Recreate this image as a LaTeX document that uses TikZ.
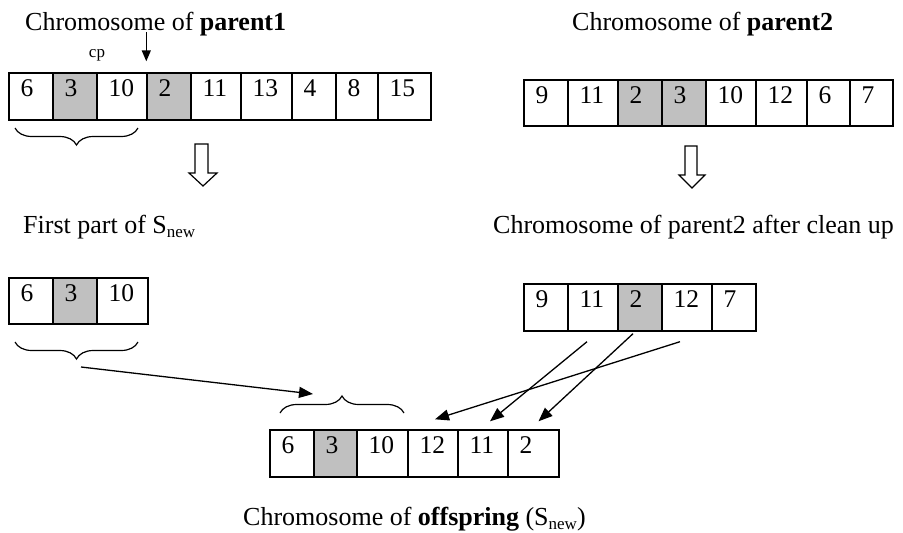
\documentclass[tikz,border=0pt]{standalone}
\usepackage{fontspec}
\setmainfont{Liberation Serif}
\usetikzlibrary{arrows.meta,decorations.pathreplacing}
\definecolor{shade}{RGB}{192,192,192}
\newcommand\subnew{\raisebox{-4pt}{\fontsize{17}{20}\selectfont new}}
\newcommand\cellbox[7]{%
  \node[cellst, fill=#7, minimum width={(#3-#2)*1pt}, minimum height={(#5-#4)*1pt}] (#1) at ({(#2+#3)/2},{(#4+#5)/2}) {};
  \node[numst, anchor=north west] (#1t) at ([xshift=12pt,yshift=-7pt]#1.north west) {#6};}
\begin{document}
\begin{tikzpicture}[x=1pt,y=-1pt,
  cellst/.style={draw=black, line width=1.4pt, inner sep=0pt, rectangle},
  numst/.style={inner sep=0pt, font=\fontsize{25.5}{30}\selectfont},
  titlest/.style={inner sep=0pt, anchor=base west, font=\fontsize{26}{30}\selectfont},
  link/.style={line width=1.3pt, -{Triangle[length=14pt,width=11pt]}},
  hollow/.style={draw, line width=1.2pt, fill=white, line join=miter},
  bracest/.style={decorate, line width=1.2pt}]
\useasboundingbox[fill=white] (0,0) rectangle (903,533);

% titles
\node[titlest] (tp1) at (25,30) {Chromosome of \textbf{parent1}};
\node[inner sep=0pt, anchor=base, font=\fontsize{17}{20}\selectfont] (cp) at (97,57) {cp};
\node[titlest] (tp2) at (572,30) {Chromosome of \textbf{parent2}};
\node[titlest] (tf) at (23,233) {First part of S\subnew};
\node[titlest] (tc) at (493,233) {Chromosome of parent2 after clean up};
\node[titlest] (to) at (243,525) {Chromosome of \textbf{offspring} (S\subnew)};

% parent1
\cellbox{p1}{9}{53}{73}{120}{6}{white}
\cellbox{p2}{53}{97}{73}{120}{3}{shade}
\cellbox{p3}{97}{147}{73}{120}{10}{white}
\cellbox{p4}{147}{191}{73}{120}{2}{shade}
\cellbox{p5}{191}{241}{73}{120}{11}{white}
\cellbox{p6}{241}{292}{73}{120}{13}{white}
\cellbox{p7}{292}{336}{73}{120}{4}{white}
\cellbox{p8}{336}{378}{73}{120}{8}{white}
\cellbox{p9}{378}{431}{73}{120}{15}{white}

% parent2
\cellbox{r1}{524}{568}{80}{126}{9}{white}
\cellbox{r2}{568}{618}{80}{126}{11}{white}
\cellbox{r3}{618}{662}{80}{126}{2}{shade}
\cellbox{r4}{662}{706}{80}{126}{3}{shade}
\cellbox{r5}{706}{756}{80}{126}{10}{white}
\cellbox{r6}{756}{807}{80}{126}{12}{white}
\cellbox{r7}{807}{850}{80}{126}{6}{white}
\cellbox{r8}{850}{893}{80}{126}{7}{white}

% first part
\cellbox{f1}{9}{53}{278}{324}{6}{white}
\cellbox{f2}{53}{97}{278}{324}{3}{shade}
\cellbox{f3}{97}{148}{278}{324}{10}{white}

% parent2 after clean up
\cellbox{c1}{524}{568}{284}{331}{9}{white}
\cellbox{c2}{568}{618}{284}{331}{11}{white}
\cellbox{c3}{618}{662}{284}{331}{2}{shade}
\cellbox{c4}{662}{712}{284}{331}{12}{white}
\cellbox{c5}{712}{756}{284}{331}{7}{white}

% offspring
\cellbox{o1}{270}{314}{430}{477}{6}{white}
\cellbox{o2}{314}{357}{430}{477}{3}{shade}
\cellbox{o3}{357}{408}{430}{477}{10}{white}
\cellbox{o4}{408}{458}{430}{477}{12}{white}
\cellbox{o5}{458}{508}{430}{477}{11}{white}
\cellbox{o6}{508}{559}{430}{477}{2}{white}

% cut point arrow
\draw[line width=1.4pt, -{Triangle[length=11pt,width=9pt]}] ([yshift=40pt]p4.north west) -- ([yshift=11pt]p4.north west);

% braces
\draw[bracest, decoration={brace, mirror, amplitude=17pt}] (15,128) -- (138,128);
\draw[bracest, decoration={brace, mirror, amplitude=17pt}] (15,342) -- (138,342);
\draw[bracest, decoration={brace, amplitude=17pt}] (280,413) -- (404,413);

% hollow arrows
\draw[hollow] (195,144) -- (208,144) -- (208,173) -- (217,173) -- (203,186) -- (189,173) -- (195,173) -- cycle;
\draw[hollow] (685,146) -- (697,146) -- (697,175) -- (705,175) -- (692,188) -- (679,175) -- (685,175) -- cycle;

% connectors
\coordinate (bt) at (81,367);
\coordinate (ot) at (313,394);
\draw[link] (bt) -- (ot);
\draw[link] ([xshift=-7pt,yshift=-10pt]c4.south) -- ([xshift=2pt,yshift=10pt]o4.north);
\draw[link] ([xshift=-6pt,yshift=-10pt]c2.south) -- ([xshift=7pt,yshift=8pt]o5.north);
\draw[link] ([xshift=-7pt,yshift=-2pt]c3.south) -- ([xshift=5pt,yshift=8pt]o6.north);
\end{tikzpicture}
\end{document}
